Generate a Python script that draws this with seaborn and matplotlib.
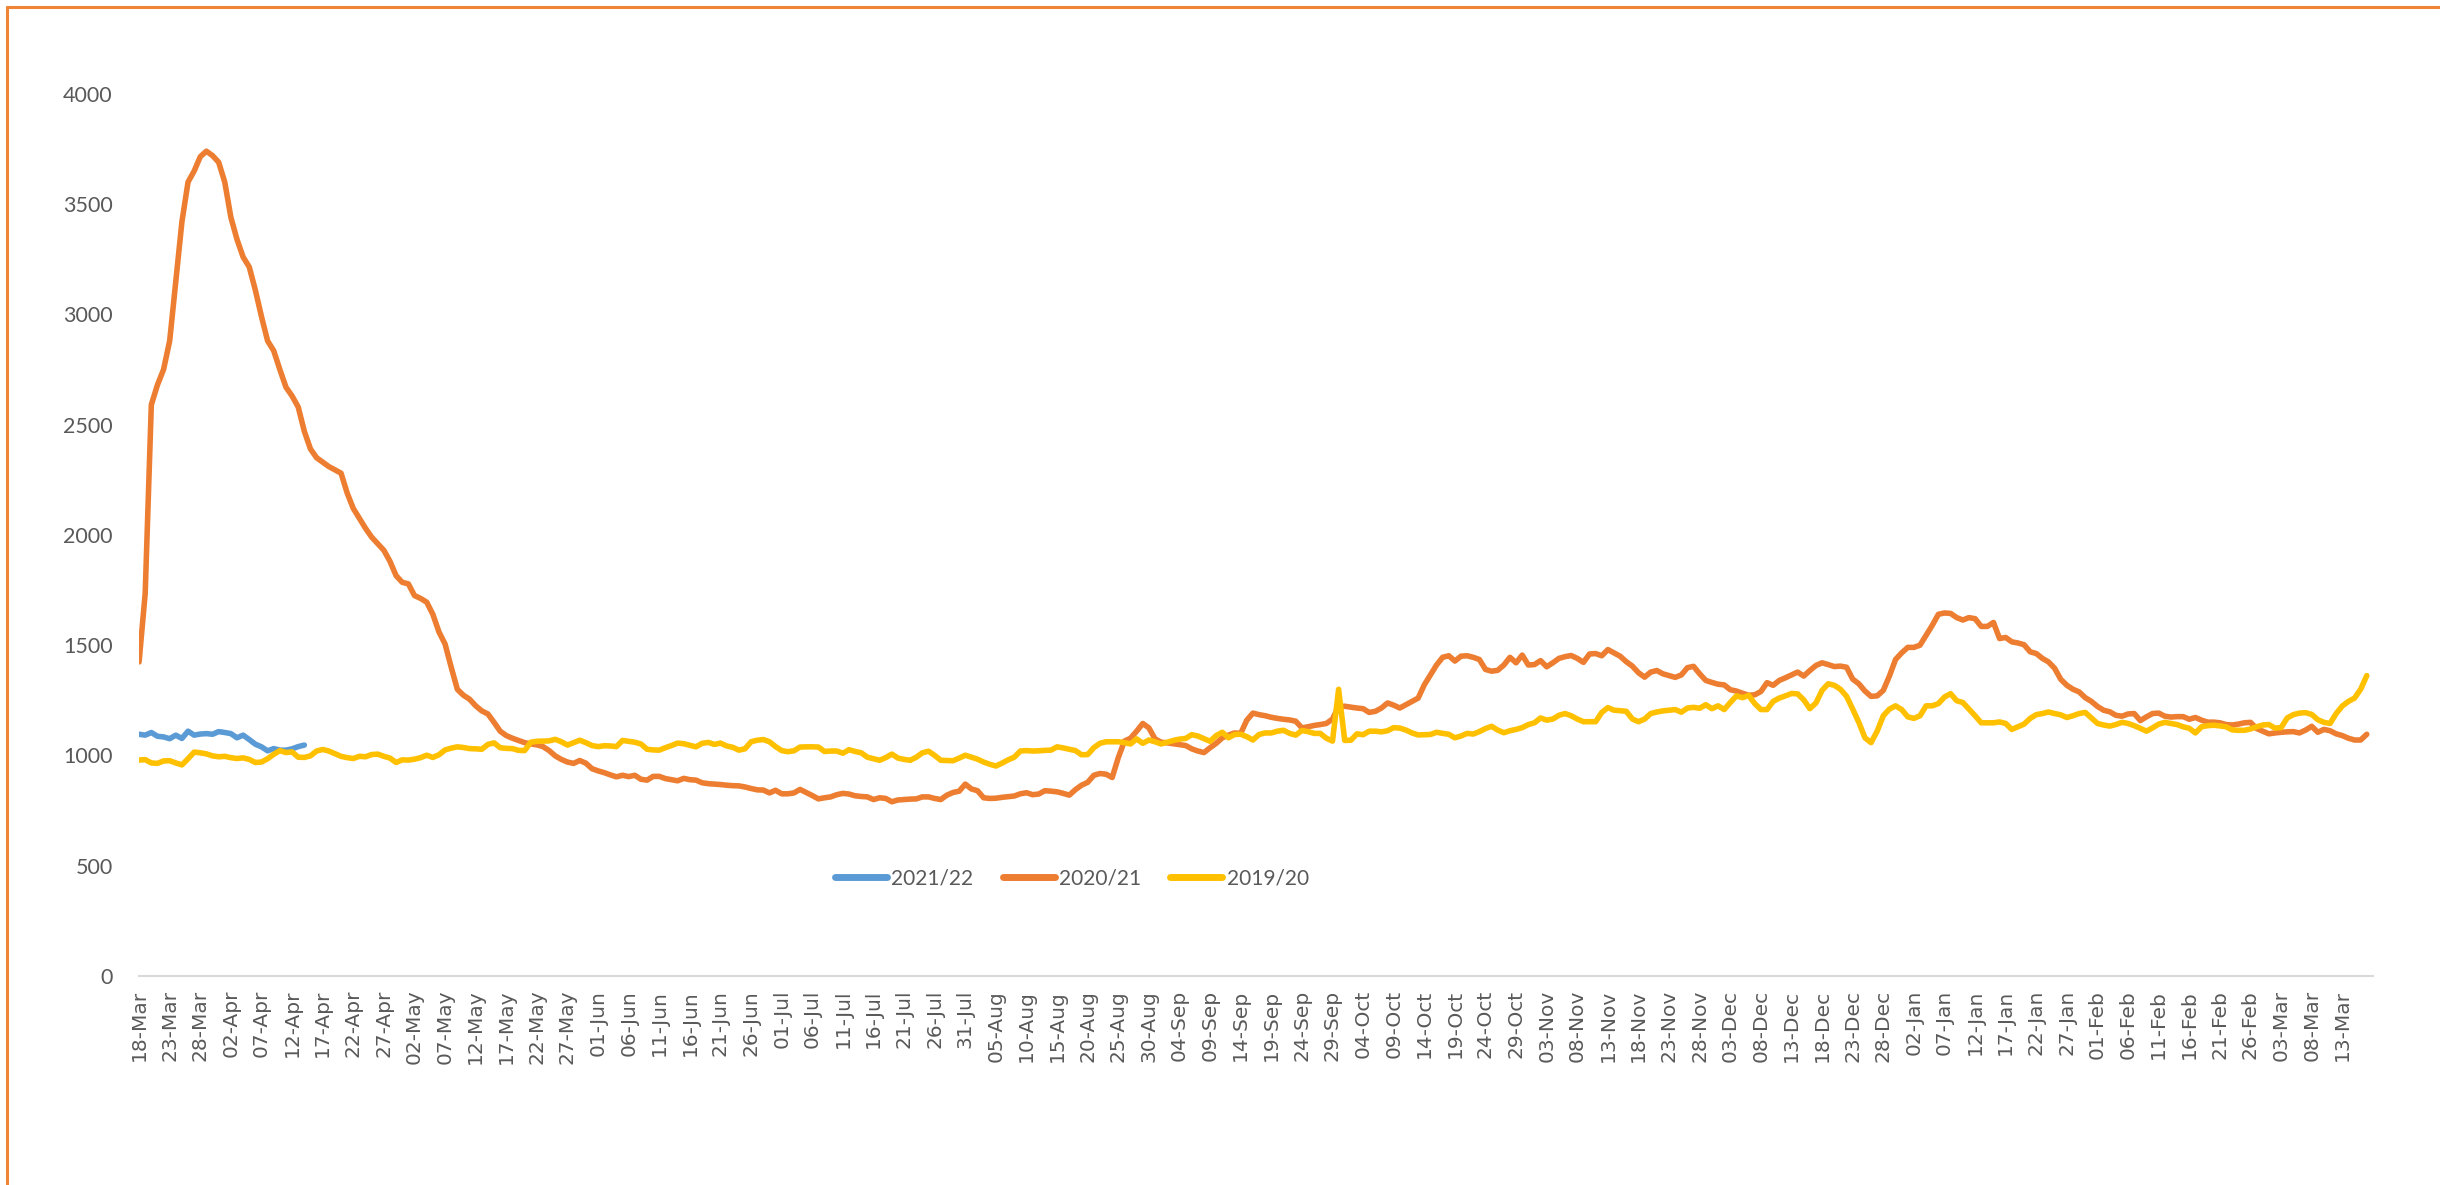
import pandas as pd
import numpy as np
import matplotlib
matplotlib.use("Agg")
import matplotlib.pyplot as plt
from matplotlib.lines import Line2D
import seaborn as sns

# daily values, 18-Mar to 17-Mar
start_date = "2020-03-18"

season_2021 = [1096, 1092, 1104, 1087, 1084, 1076, 1092, 1077, 1110, 1092,
               1097, 1099, 1096, 1108, 1104, 1099, 1080, 1092, 1072, 1051,
               1039, 1021, 1031, 1024, 1024, 1030, 1040, 1047]

season_2020 = [1424, 1735, 2590, 2680, 2750, 2880, 3150, 3420, 3600, 3650,
               3715, 3740, 3720, 3690, 3600, 3440, 3340, 3260, 3215, 3110,
               2990, 2880, 2835, 2750, 2670, 2630, 2580, 2470, 2390, 2350,
               2330, 2310, 2295, 2280, 2190, 2120, 2075, 2030, 1990, 1960,
               1930, 1880, 1815, 1785, 1778, 1725, 1712, 1695, 1640, 1560,
               1505, 1400, 1300, 1273, 1255, 1225, 1202, 1188, 1150, 1110,
               1090, 1078, 1068, 1058, 1052, 1048, 1040, 1022, 998, 982,
               970, 964, 977, 965, 940, 930, 922, 912, 903, 910,
               904, 910, 892, 888, 905, 905, 895, 890, 885, 896,
               890, 888, 876, 872, 870, 868, 865, 863, 862, 857,
               850, 844, 843, 830, 842, 826, 826, 830, 846, 832,
               818, 803, 808, 812, 822, 828, 825, 817, 814, 812,
               800, 808, 805, 790, 798, 800, 802, 803, 812, 812,
               805, 800, 820, 832, 838, 870, 848, 840, 808, 805,
               806, 810, 813, 816, 826, 831, 822, 825, 840, 838,
               835, 828, 820, 845, 865, 878, 910, 918, 915, 900,
               990, 1065, 1078, 1110, 1145, 1125, 1075, 1060, 1057, 1053,
               1049, 1045, 1030, 1020, 1013, 1035, 1055, 1080, 1092, 1102,
               1100, 1160, 1192, 1185, 1180, 1173, 1168, 1164, 1161, 1155,
               1125, 1130, 1136, 1140, 1145, 1165, 1222, 1223, 1219, 1215,
               1212, 1195, 1200, 1215, 1238, 1228, 1215, 1230, 1245, 1260,
               1320, 1365, 1410, 1445, 1452, 1428, 1450, 1452, 1445, 1435,
               1390, 1382, 1386, 1410, 1445, 1420, 1455, 1410, 1412, 1430,
               1402, 1420, 1440, 1448, 1453, 1440, 1422, 1460, 1462, 1452,
               1480, 1465, 1450, 1425, 1405, 1375, 1355, 1378, 1385, 1370,
               1362, 1354, 1365, 1398, 1404, 1370, 1340, 1331, 1323, 1320,
               1298, 1292, 1282, 1273, 1275, 1290, 1330, 1318, 1340, 1352,
               1365, 1378, 1360, 1385, 1408, 1420, 1412, 1403, 1405, 1400,
               1346, 1325, 1292, 1268, 1270, 1295, 1360, 1435, 1465, 1490,
               1490, 1500, 1545, 1590, 1640, 1646, 1644, 1625, 1614, 1625,
               1620, 1585, 1585, 1603, 1530, 1535, 1515, 1510, 1502, 1470,
               1462, 1440, 1424, 1395, 1345, 1318, 1300, 1288, 1262, 1245,
               1222, 1205, 1198, 1182, 1178, 1188, 1190, 1158, 1175, 1190,
               1192, 1178, 1174, 1176, 1176, 1164, 1172, 1160, 1151, 1151,
               1148, 1140, 1138, 1142, 1148, 1150, 1122, 1110, 1098, 1102,
               1105, 1107, 1108, 1102, 1115, 1132, 1105, 1118, 1112, 1098,
               1090, 1078, 1070, 1070, 1096]

season_2019 = [979, 981, 966, 964, 975, 976, 966, 957, 985, 1015,
               1012, 1007, 998, 994, 996, 990, 986, 989, 982, 968,
               970, 985, 1005, 1022, 1013, 1016, 992, 991, 998, 1020,
               1027, 1020, 1008, 996, 990, 986, 996, 994, 1004, 1006,
               996, 988, 968, 980, 979, 983, 990, 1001, 991, 1003,
               1025, 1033, 1039, 1036, 1031, 1030, 1028, 1050, 1057, 1035,
               1032, 1031, 1023, 1022, 1060, 1064, 1065, 1066, 1073, 1062,
               1047, 1058, 1069, 1058, 1045, 1040, 1044, 1043, 1040, 1068,
               1064, 1060, 1052, 1028, 1025, 1024, 1035, 1045, 1056, 1053,
               1046, 1039, 1055, 1059, 1050, 1056, 1043, 1037, 1024, 1030,
               1062, 1069, 1072, 1062, 1040, 1022, 1017, 1021, 1038, 1039,
               1039, 1038, 1018, 1020, 1020, 1010, 1026, 1018, 1012, 992,
               985, 978, 990, 1006, 988, 982, 978, 992, 1012, 1019,
               1000, 978, 977, 976, 988, 1001, 992, 983, 970, 960,
               952, 965, 980, 992, 1020, 1022, 1020, 1021, 1023, 1024,
               1039, 1034, 1028, 1022, 1003, 1004, 1035, 1055, 1062, 1062,
               1062, 1058, 1052, 1075, 1055, 1070, 1062, 1052, 1060, 1068,
               1074, 1077, 1094, 1088, 1076, 1064, 1090, 1105, 1080, 1095,
               1096, 1085, 1070, 1095, 1102, 1102, 1110, 1114, 1100, 1092,
               1113, 1108, 1100, 1100, 1078, 1065, 1300, 1068, 1069, 1098,
               1094, 1110, 1110, 1107, 1112, 1126, 1124, 1115, 1102, 1093,
               1094, 1095, 1105, 1100, 1096, 1080, 1088, 1100, 1097, 1108,
               1122, 1132, 1115, 1103, 1112, 1118, 1126, 1140, 1148, 1170,
               1160, 1165, 1182, 1190, 1180, 1165, 1153, 1153, 1153, 1195,
               1217, 1205, 1203, 1200, 1165, 1153, 1165, 1190, 1197, 1202,
               1205, 1208, 1196, 1215, 1218, 1214, 1230, 1212, 1225, 1208,
               1240, 1270, 1262, 1272, 1235, 1208, 1208, 1245, 1260, 1270,
               1281, 1279, 1252, 1212, 1238, 1295, 1325, 1318, 1300, 1268,
               1210, 1150, 1080, 1058, 1110, 1180, 1210, 1225, 1208, 1175,
               1168, 1180, 1225, 1225, 1235, 1265, 1280, 1248, 1240, 1210,
               1180, 1148, 1148, 1148, 1152, 1145, 1118, 1130, 1142, 1168,
               1185, 1190, 1197, 1190, 1184, 1172, 1180, 1190, 1195, 1170,
               1145, 1138, 1133, 1140, 1150, 1145, 1135, 1123, 1110, 1125,
               1142, 1150, 1145, 1140, 1130, 1123, 1102, 1130, 1135, 1137,
               1134, 1130, 1116, 1114, 1114, 1120, 1130, 1138, 1140, 1124,
               1126, 1170, 1185, 1192, 1194, 1186, 1162, 1150, 1145, 1190,
               1224, 1245, 1260, 1300, 1362]

seasons = ["2021/22", "2020/21", "2019/20"]
colors = ["#5B9BD5", "#ED7D31", "#FFC000"]

frames = []
for name, vals in zip(seasons, [season_2021, season_2020, season_2019]):
    frames.append(pd.DataFrame({
        "date": pd.date_range(start_date, periods=len(vals), freq="D"),
        "value": vals,
        "season": name,
    }))
df = pd.concat(frames, ignore_index=True)

sns.set_style("white")
plt.rcParams["font.family"] = ["Lato", "DejaVu Sans"]

fig = plt.figure(figsize=(24.4, 11.85), dpi=100)
ax = fig.add_axes([0.057, 0.1764, 0.9155, 0.7444])

sns.lineplot(data=df, x="date", y="value", hue="season", hue_order=seasons,
             palette=colors, linewidth=4.0, errorbar=None, ax=ax)

all_dates = pd.date_range(start_date, periods=365, freq="D")
ax.set_xlim(all_dates[0], all_dates[0] + pd.Timedelta(days=365))
ax.set_ylim(0, 4000)
ax.set_yticks(np.arange(0, 4001, 500))

tick_dates = all_dates[::5]
ax.set_xticks(tick_dates)
ax.set_xticklabels([d.strftime("%d-%b") for d in tick_dates], rotation=90,
                   family="DejaVu Sans", fontsize=14.5, color="#595959")
for lab in ax.get_yticklabels():
    lab.set_fontsize(15.5)
    lab.set_color("#595959")

ax.set_xlabel("")
ax.set_ylabel("")
for side in ["top", "right", "left"]:
    ax.spines[side].set_visible(False)
ax.spines["bottom"].set_color("#d9d9d9")
ax.spines["bottom"].set_linewidth(1.5)
ax.tick_params(axis="x", direction="out", length=7, width=1.5, color="#d9d9d9", pad=3)
ax.tick_params(axis="y", length=0, pad=19)

leg = ax.legend(loc="center", bbox_to_anchor=(0.4176, 0.111), ncol=3, frameon=False,
                fontsize=15, handlelength=2.5, handletextpad=0.2, columnspacing=1.4)
for line in leg.get_lines():
    line.set_linewidth(5)
    line.set_solid_capstyle("round")
for t in leg.get_texts():
    t.set_color("#595959")

# orange frame, top and left edges
frame_col = "#F08436"
fig.add_artist(Line2D([0.0028, 1.0], [0.9937, 0.9937], color=frame_col, linewidth=2.2,
                      transform=fig.transFigure))
fig.add_artist(Line2D([0.0028, 0.0028], [0.0, 0.9937], color=frame_col, linewidth=2.2,
                      transform=fig.transFigure))

fig.savefig("out.png", dpi=100)
